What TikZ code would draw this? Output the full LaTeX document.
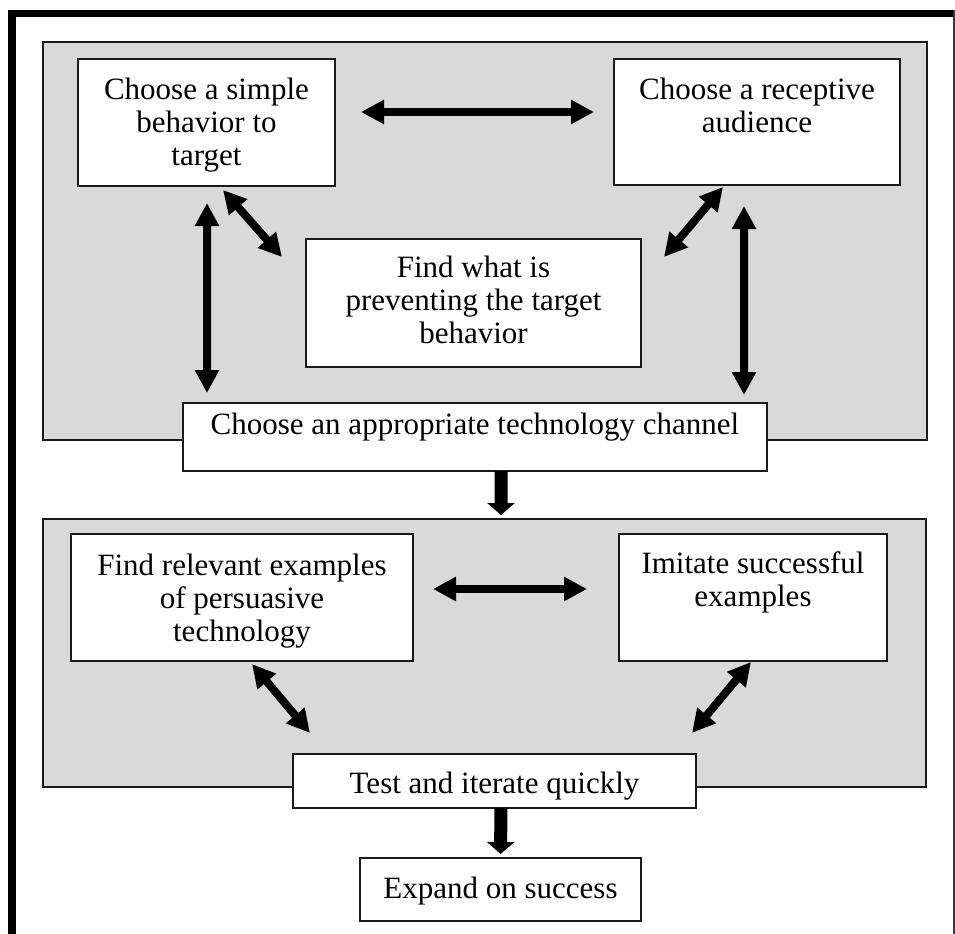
\documentclass[tikz,border=0pt]{standalone}
\usepackage{fontspec}
\newfontfamily\boxfont{Liberation Serif}
\usetikzlibrary{arrows.meta}
\definecolor{panelgray}{HTML}{D9D9D9}
\definecolor{edge}{HTML}{1A1A1A}
\definecolor{rimgray}{HTML}{3A3A3A}
\newcommand\boxtext{\boxfont\fontsize{31bp}{33bp}\selectfont}
\tikzset{
  panel/.style={draw=edge, fill=panelgray, line width=1.8bp, inner sep=0pt, outer sep=0pt, anchor=north west},
  stepbox/.style={draw=edge, fill=white, line width=1.8bp, inner sep=0pt, outer sep=0pt, anchor=north west},
  boxlabel/.style={align=center, inner sep=0pt, anchor=north, font=\boxtext},
  twoway/.style={line width=8bp, {Triangle[length=23bp,width=23bp]}-{Triangle[length=23bp,width=23bp]}},
  downarrow/.style={line width=13bp, -{Triangle[length=12bp,width=27bp]}},
}
\begin{document}
\begin{tikzpicture}[x=1bp,y=-1bp]
\useasboundingbox (0,0) rectangle (955,934);
% page frame
\fill[black] (8,10) rectangle (16,934);
\fill[black] (8,10) rectangle (953,17);
\fill[rimgray] (952.8,10) rectangle (954.8,934);

% grey stage panels
\node[panel, minimum width=884bp, minimum height=398bp] (P1) at (43,42) {};
\node[panel, minimum width=883bp, minimum height=268bp] (P2) at (43,519) {};

% boxes
\node[stepbox, minimum width=257bp, minimum height=127bp] (A) at (78,59) {};
\node[stepbox, minimum width=286bp, minimum height=126bp] (B) at (614,59) {};
\node[stepbox, minimum width=335bp, minimum height=128bp] (C) at (306,239) {};
\node[stepbox, minimum width=584bp, minimum height=68bp] (D) at (183,403) {};
\node[stepbox, minimum width=342bp, minimum height=127bp] (E) at (71,534) {};
\node[stepbox, minimum width=268bp, minimum height=127bp] (F) at (619,534) {};
\node[stepbox, minimum width=403bp, minimum height=54bp] (G) at (293,754) {};
\node[stepbox, minimum width=281bp, minimum height=63bp] (H) at (360,858) {};

% box texts
\node[boxlabel] (At) at ([yshift=-18.5bp]A.north) {Choose a simple\\behavior to\\target};
\node[boxlabel] (Bt) at ([yshift=-18.5bp]B.north) {Choose a receptive\\audience};
\node[boxlabel] (Ct) at ([yshift=-16.5bp]C.north) {Find what is\\preventing the target\\behavior};
\node[boxlabel] (Dt) at ([yshift=-9.5bp]D.north) {Choose an appropriate technology channel};
\node[boxlabel] (Et) at ([yshift=-19.5bp]E.north) {Find relevant examples\\of persuasive\\technology};
\node[boxlabel] (Ft) at ([yshift=-17.5bp]F.north) {Imitate successful\\examples};
\node[boxlabel] (Gt) at ([yshift=-17.5bp]G.north) {Test and iterate quickly};
\node[boxlabel] (Ht) at ([yshift=-18.5bp]H.north) {Expand on success};

% two-way links, first stage
\draw[twoway] ([xshift=26bp,yshift=10.5bp]A.east) -- ([xshift=-20bp,yshift=10bp]B.west);
\draw[twoway] ([xshift=0.5bp,yshift=-17bp]A.south) -- ([xshift=24bp,yshift=10bp]D.north west);
\draw[twoway] ([xshift=16.5bp,yshift=-4bp]A.south) -- ([xshift=-24bp,yshift=-18bp]C.north west);
\draw[twoway] ([xshift=-34bp,yshift=-2bp]B.south) -- ([xshift=23bp,yshift=-18bp]C.north east);
\draw[twoway] ([xshift=-13bp,yshift=-21bp]B.south) -- ([xshift=-23bp,yshift=8bp]D.north east);

% stage transition
\draw[downarrow] ([xshift=26bp]D.south) -- ([xshift=16.5bp,yshift=4bp]P2.north);

% two-way links, second stage
\draw[twoway] ([xshift=20bp,yshift=8.5bp]E.east) -- ([xshift=-32bp,yshift=8.5bp]F.west);
\draw[twoway] ([xshift=10bp,yshift=-3bp]E.south) -- ([xshift=17bp,yshift=21bp]G.north west);
\draw[twoway] ([xshift=-2bp,yshift=-1bp]F.south) -- ([xshift=-4bp,yshift=21bp]G.north east);

% final step
\draw[downarrow] ([xshift=6.5bp]G.south) -- ([yshift=4bp]H.north);
\end{tikzpicture}
\end{document}
